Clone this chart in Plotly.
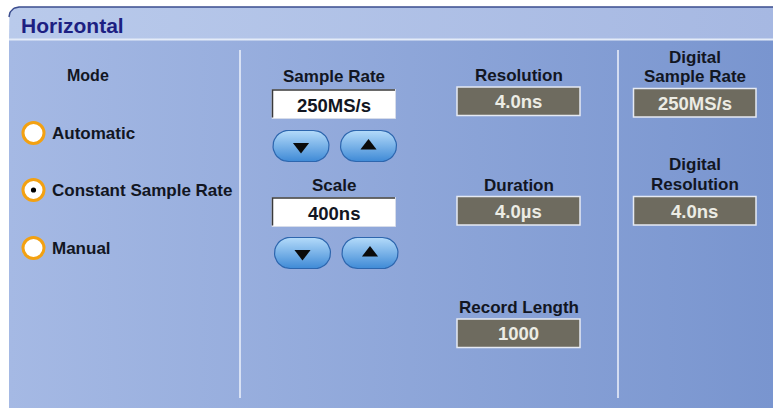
import numpy as np
import plotly.graph_objects as go

# ---------------- data (texts / values shown in the panel) ----------------
panel_title = "Horizontal"
mode_heading = "Mode"
mode_options = ["Automatic", "Constant Sample Rate", "Manual"]
selected_mode = "Constant Sample Rate"
input_labels = ["Sample Rate", "Scale"]
input_values = ["250MS/s", "400ns"]
readout_labels = ["Resolution", "Duration", "Record Length"]
readout_values = ["4.0ns", "4.0\u00b5s", "1000"]
digital_labels = [["Digital", "Sample Rate"], ["Digital", "Resolution"]]
digital_values = ["250MS/s", "4.0ns"]

# ---------------- layout constants ----------------
W, H = 773, 410
FONT = "Liberation Sans, Arial, sans-serif"
TXT = "#121622"

fig = go.Figure()


def add_poly(xs, ys, grad_type, c0, c1, start, stop, line=None):
    fig.add_trace(go.Scatter(
        x=list(xs) + [xs[0]], y=list(ys) + [ys[0]], mode="lines", fill="toself",
        line=line or dict(width=0, color="rgba(0,0,0,0)"),
        fillgradient=dict(type=grad_type, colorscale=[[0, c0], [1, c1]], start=start, stop=stop),
        hoverinfo="skip", showlegend=False))


# body background
bx0, bx1, by0, by1 = 9, 773, 39, 408
add_poly([bx0, bx1, bx1, bx0], [by0, by0, by1, by1], "horizontal", "#a5b9e4", "#7995cf", bx0, bx1)

# header with rounded top-left corner
hy0, hy1, r = 7, 39, 10
t = np.linspace(np.pi, 1.5 * np.pi, 12)
hx = [bx0] + list(bx0 + r + r * np.cos(t)) + [bx1, bx1]
hy = [hy1] + list(hy0 + r + r * np.sin(t)) + [hy0, hy1]
add_poly(hx, hy, "horizontal", "#b9caeb", "#a6b8e2", bx0, bx1)
fig.add_trace(go.Scatter(x=list(bx0 + r + r * np.cos(t)) + [bx1], y=list(hy0 + r + r * np.sin(t)) + [hy0],
                         mode="lines", line=dict(color="#3b4d8e", width=1.5), hoverinfo="skip", showlegend=False))


def pill(cx, cy, w, h):
    rr = h / 2
    a1 = np.linspace(-np.pi / 2, np.pi / 2, 20)
    a2 = np.linspace(np.pi / 2, 1.5 * np.pi, 20)
    xs = list(cx + w / 2 - rr + rr * np.cos(a1)) + list(cx - w / 2 + rr + rr * np.cos(a2))
    ys = list(cy + rr * np.sin(a1)) + list(cy + rr * np.sin(a2))
    add_poly(xs, ys, "vertical", "#b4dbfa", "#3f8ad6", cy - h / 2, cy + h / 2,
             line=dict(color="#2d66ae", width=1.2))


# ---------------- static shapes ----------------
shapes = []
# separator under header
shapes.append(dict(type="line", x0=bx0, x1=bx1, y0=39.5, y1=39.5, line=dict(color="#e4ebf8", width=2)))
# vertical dividers
for vx in (240, 618):
    shapes.append(dict(type="line", x0=vx, x1=vx, y0=50, y1=398, line=dict(color="#eef2fb", width=1.5)))

annotations = []


def text(x, y, s, size=17, color=TXT, anchor="center", weight="bold"):
    annotations.append(dict(x=x, y=y, text=s, showarrow=False, xanchor=anchor, yanchor="middle",
                            font=dict(family=FONT, size=size, color=color, weight=weight)))


# title
text(19, 25, panel_title, size=21, color="#1d1f82", anchor="left")

# mode radio group
text(88, 75, mode_heading, size=16)
radio_y = [133, 190, 248]
for opt, ry in zip(mode_options, radio_y):
    shapes.append(dict(type="circle", x0=33.5 - 10.5, x1=33.5 + 10.5, y0=ry - 10.5, y1=ry + 10.5,
                       fillcolor="white", line=dict(color="#f3a112", width=3)))
    if opt == selected_mode:
        shapes.append(dict(type="circle", x0=33.5 - 2.6, x1=33.5 + 2.6, y0=ry - 2.6, y1=ry + 2.6,
                           fillcolor="black", line=dict(width=0)))
    text(49.5, ry, opt, anchor="left")

# input fields with up/down buttons
in_cx = 334
in_label_y = [76, 185]
in_box_y = [(89.5, 118.5), (197.5, 226.5)]
btn_y = [146, 253]
tri_x, tri_y, tri_sym = [], [], []
for lab, val, ly, (y0, y1), byy in zip(input_labels, input_values, in_label_y, in_box_y, btn_y):
    text(in_cx, ly, lab)
    shapes.append(dict(type="rect", x0=272, x1=395.5, y0=y0, y1=y1, fillcolor="white",
                       line=dict(color="#d6dcea", width=1)))
    shapes.append(dict(type="path", path=f"M 272.5 {y1 - 1} L 272.5 {y0 + 0.5} L 395 {y0 + 0.5}",
                       line=dict(color="#3a3a3a", width=1.5)))
    text(in_cx, (y0 + y1) / 2 + 1, val, size=18.5)
    off = 0 if byy == btn_y[0] else 1.5
    for bcx, sym in ((301 + off, "triangle-down"), (368.5 + off, "triangle-up")):
        pill(bcx, byy, 56, 31)
        tri_x.append(bcx)
        tri_y.append(byy + (0.5 if sym == "triangle-down" else 0))
        tri_sym.append(sym)

fig.add_trace(go.Scatter(x=tri_x, y=tri_y, mode="markers",
                         marker=dict(symbol=tri_sym, size=14, color="#0b0b0b", line=dict(width=0)),
                         hoverinfo="skip", showlegend=False))

# read-only readouts (middle column)
ro_cx = 518.5
ro_label_y = [75, 185, 307]
ro_box_y = [(87, 115.5), (196.5, 225), (319, 347.5)]
for lab, val, ly, (y0, y1) in zip(readout_labels, readout_values, ro_label_y, ro_box_y):
    text(ro_cx, ly, lab)
    shapes.append(dict(type="rect", x0=457, x1=580, y0=y0, y1=y1, fillcolor="#6e6b5f",
                       line=dict(color="#e6eaf3", width=1.5)))
    text(ro_cx, (y0 + y1) / 2 + 0.5, val, size=18.5, color="#ecece4")

# digital readouts (right column)
dg_cx = 694.5
dg_label_y = [(57, 76.5), (164, 184.5)]
dg_box_y = [(88.5, 117), (196.5, 225)]
for labs, val, lys, (y0, y1) in zip(digital_labels, digital_values, dg_label_y, dg_box_y):
    for l, ly in zip(labs, lys):
        text(dg_cx, ly, l)
    shapes.append(dict(type="rect", x0=633.5, x1=756, y0=y0, y1=y1, fillcolor="#6e6b5f",
                       line=dict(color="#e6eaf3", width=1.5)))
    text(dg_cx, (y0 + y1) / 2 + 0.5, val, size=18.5, color="#ecece4")

fig.update_layout(
    width=W, height=H, margin=dict(l=0, r=0, t=0, b=0),
    paper_bgcolor="white", plot_bgcolor="white",
    xaxis=dict(range=[0, W], visible=False, fixedrange=True),
    yaxis=dict(range=[H, 0], visible=False, fixedrange=True),
    shapes=shapes, annotations=annotations, showlegend=False,
)

fig.write_html("out.html", config=dict(displayModeBar=False),
               post_script="document.body.style.margin='0';document.body.style.overflow='hidden';")
